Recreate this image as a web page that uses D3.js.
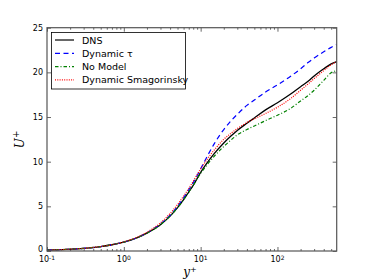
<!DOCTYPE html>
<html>
<head>
<meta charset="utf-8">
<script src="https://cdn.jsdelivr.net/npm/d3@7"></script>
<style>
body { margin: 0; background: #fff; }
svg { display: block; }
.tick text { font-family: "DejaVu Sans", sans-serif; font-size: 8px; fill: #000; }
</style>
</head>
<body>
<div id="chart"></div>
<script>
// y+ sample positions shared by all curves
var yPlus = [0.1, 0.15, 0.2, 0.3, 0.5, 0.7, 1, 1.5, 2, 3, 4, 5, 6, 7, 8, 10, 12, 15, 20, 25, 30, 40, 50, 70, 100, 150, 200, 250, 300, 400, 500, 590];

// U+ values per case
var dns     = [0.1, 0.15, 0.2, 0.3, 0.5, 0.7, 1.0, 1.5, 2.0, 2.95, 3.9, 4.85, 5.75, 6.6, 7.35, 8.8, 9.8, 10.9, 12.1, 12.9, 13.5, 14.3, 14.9, 15.8, 16.6, 17.6, 18.4, 19.0, 19.6, 20.4, 20.95, 21.2];
var dynTau  = [0.1, 0.15, 0.2, 0.3, 0.5, 0.7, 1.0, 1.5, 2.05, 3.05, 4.0, 5.0, 5.95, 6.85, 7.65, 9.2, 10.5, 12.0, 13.6, 14.6, 15.3, 16.3, 16.9, 17.8, 18.6, 19.6, 20.4, 21.1, 21.6, 22.3, 22.8, 23.1];
var noModel = [0.1, 0.15, 0.2, 0.3, 0.5, 0.7, 1.0, 1.5, 2.0, 2.95, 3.9, 4.85, 5.75, 6.6, 7.35, 8.7, 9.6, 10.6, 11.7, 12.45, 13.0, 13.6, 14.0, 14.6, 15.2, 16.0, 16.8, 17.4, 18.0, 19.1, 19.95, 20.2];
var dynSmag = [0.1, 0.15, 0.2, 0.3, 0.5, 0.7, 1.02, 1.55, 2.1, 3.15, 4.2, 5.2, 6.15, 7.0, 7.8, 9.2, 10.2, 11.3, 12.5, 13.2, 13.7, 14.4, 14.8, 15.4, 16.1, 17.1, 18.0, 18.7, 19.3, 20.2, 20.85, 21.2];

var seriesNames = ["DNS", "Dynamic \u03C4", "No Model", "Dynamic Smagorinsky"];
var seriesData = [dns, dynTau, noModel, dynSmag];
var seriesColors = ["#000000", "#0000ff", "#008000", "#ff0000"];
var seriesDash = [null, "5,3.5", "3.5,2,1,2", "1,1.3"];

var yTicks = [0, 5, 10, 15, 20, 25];
var xMajor = [0.1, 1, 10, 100];
var xExps = ["-1", "0", "1", "2"];

var W = 374, H = 280;
var margin = { top: 27.7, right: 37.3, bottom: 29, left: 47 };

var svg = d3.select("#chart").append("svg")
	.attr("width", W)
	.attr("height", H);

var x = d3.scaleLog()
	.domain([0.1, 590])
	.range([margin.left, W - margin.right]);

var y = d3.scaleLinear()
	.domain([0, 25])
	.range([H - margin.bottom, margin.top]);

// minor ticks for log axis
var xMinor = [];
[0.1, 1, 10, 100].forEach(function(d){
	for (var k = 2; k <= 9; k++){ if (d * k <= 590) xMinor.push(d * k); }
});

// curves
var line = d3.line()
	.curve(d3.curveMonotoneX)
	.x(function(d){ return x(d[0]); })
	.y(function(d){ return y(d[1]); });

var g = svg.append("g");
seriesData.forEach(function(s, i){
	g.append("path")
		.datum(yPlus.map(function(v, j){ return [v, s[j]]; }))
		.attr("d", line)
		.attr("fill", "none")
		.attr("stroke", seriesColors[i])
		.attr("stroke-width", i == 0 ? 1.3 : 1.2)
		.attr("stroke-dasharray", seriesDash[i]);
});

// axes (ticks inward)
svg.append("g")
	.attr("transform", "translate(0," + (H - margin.bottom) + ")")
	.call(d3.axisBottom(x).tickValues(xMajor).tickSize(-4).tickFormat(""));
svg.append("g")
	.attr("transform", "translate(0," + margin.top + ")")
	.call(d3.axisTop(x).tickValues(xMajor).tickSize(-4).tickFormat(""));
svg.append("g")
	.attr("transform", "translate(0," + (H - margin.bottom) + ")")
	.call(d3.axisBottom(x).tickValues(xMinor).tickSize(-2).tickFormat(""));
svg.append("g")
	.attr("transform", "translate(0," + margin.top + ")")
	.call(d3.axisTop(x).tickValues(xMinor).tickSize(-2).tickFormat(""));
var yAxisG = svg.append("g")
	.attr("transform", "translate(" + margin.left + ",0)")
	.call(d3.axisLeft(y).tickValues(yTicks).tickSize(-4).tickPadding(4));
svg.append("g")
	.attr("transform", "translate(" + (W - margin.right) + ",0)")
	.call(d3.axisRight(y).tickValues(yTicks).tickSize(-4).tickFormat(""));

// nudge the "0" label up a little so it clears 10^-1
yAxisG.selectAll(".tick text").filter(function(d){ return d === 0; }).attr("dy", "0.1em");

svg.selectAll(".domain").remove();
svg.selectAll(".tick line").attr("stroke", "#000").attr("stroke-width", 0.6);

// frame
svg.append("rect")
	.attr("x", margin.left)
	.attr("y", margin.top)
	.attr("width", W - margin.left - margin.right)
	.attr("height", H - margin.top - margin.bottom)
	.attr("fill", "none")
	.attr("stroke", "#555")
	.attr("stroke-width", 1.2);

// x tick labels 10^n
xMajor.forEach(function(v, i){
	var t = svg.append("text")
		.attr("x", x(v))
		.attr("y", H - margin.bottom + 11)
		.attr("text-anchor", "middle")
		.style("font-family", "DejaVu Sans, sans-serif")
		.style("font-size", "8px");
	t.append("tspan").text("10");
	t.append("tspan").attr("dy", -2.5).style("font-size", "6px").text(xExps[i]);
});

// axis labels
var xl = svg.append("text")
	.attr("x", 190)
	.attr("y", 276)
	.attr("text-anchor", "middle")
	.style("font-family", "DejaVu Serif, serif")
	.style("font-style", "italic")
	.style("font-size", "12px");
xl.append("tspan").text("y");
xl.append("tspan").attr("dy", -4).style("font-size", "8px").style("font-style", "normal").text("+");

var yl = svg.append("text")
	.attr("transform", "translate(24," + ((margin.top + H - margin.bottom) / 2) + ") rotate(-90)")
	.attr("text-anchor", "middle")
	.style("font-family", "DejaVu Serif, serif")
	.style("font-style", "italic")
	.style("font-size", "12px");
yl.append("tspan").text("U");
yl.append("tspan").attr("dy", -5).style("font-size", "9px").style("font-style", "normal").text("+");

// legend
var leg = svg.append("g");
leg.append("rect")
	.attr("x", 51.5).attr("y", 32.5)
	.attr("width", 134).attr("height", 56.5)
	.attr("fill", "#fff")
	.attr("stroke", "#000")
	.attr("stroke-width", 0.8);
seriesNames.forEach(function(n, i){
	var yy = 40 + i * 13.3;
	leg.append("line")
		.attr("x1", 55).attr("x2", 74)
		.attr("y1", yy).attr("y2", yy)
		.attr("stroke", seriesColors[i])
		.attr("stroke-width", 1.2)
		.attr("stroke-dasharray", seriesDash[i]);
	leg.append("text")
		.attr("x", 82).attr("y", yy + 3.5)
		.style("font-family", "DejaVu Sans, sans-serif")
		.style("font-size", "9.5px")
		.text(n);
});
</script>
</body>
</html>
